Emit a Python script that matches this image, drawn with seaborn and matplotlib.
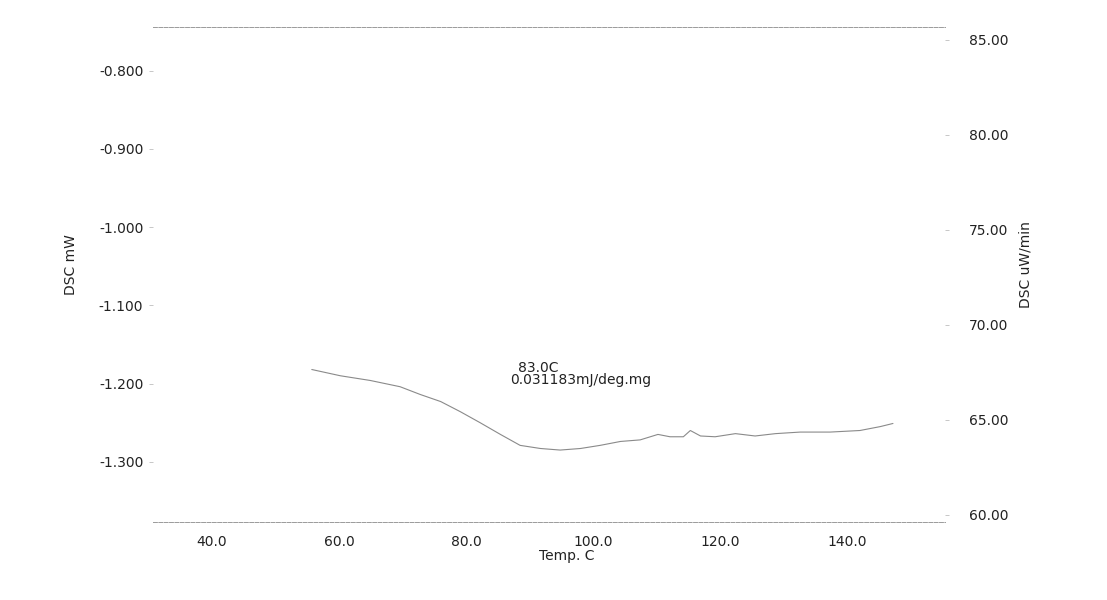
"""
plot.py - DSC scan redraw (heat flow vs temperature)
"""
import numpy as np
import pandas as pd
import matplotlib
matplotlib.use("Agg")
import matplotlib.pyplot as plt
import seaborn as sns

# values
temp_c = [55.7, 60.2, 64.9, 69.6, 72.8, 76.0, 79.1, 82.2, 85.4, 88.5,
          91.7, 94.8, 98.0, 101.1, 104.3, 107.4, 110.2, 112.1, 114.2, 115.3,
          116.9, 119.2, 122.4, 125.5, 128.7, 132.6, 137.3, 142.0, 145.2, 147.2]
dsc_mw = [-1.182, -1.190, -1.196, -1.204, -1.214, -1.223, -1.236, -1.250, -1.265, -1.279,
          -1.283, -1.285, -1.283, -1.279, -1.274, -1.272, -1.265, -1.268, -1.268, -1.260,
          -1.267, -1.268, -1.264, -1.267, -1.264, -1.262, -1.262, -1.260, -1.255, -1.251]

x_ticks = [40.0, 60.0, 80.0, 100.0, 120.0, 140.0]
left_ticks = [-0.8, -0.9, -1.0, -1.1, -1.2, -1.3]
right_ticks = [85.0, 80.0, 75.0, 70.0, 65.0, 60.0]

peak_label = "83.0C"
enthalpy_label = "0.031183mJ/deg.mg"

df = pd.DataFrame({"Temp": temp_c, "DSC": dsc_mw})

sns.set_style("white")
plt.rcParams["font.family"] = ["DejaVu Sans"]
FS = 10

fig = plt.figure(figsize=(11.07, 6), dpi=100)
ax = fig.add_axes([0.1382, 0.13, 0.7155, 0.825])

sns.lineplot(data=df, x="Temp", y="DSC", ax=ax, color="#8a8a8a", linewidth=0.8)

ax.set_xlim(30.7, 155.4)
ax.set_ylim(-1.377, -0.744)
ax.set_xticks(x_ticks)
ax.set_xticklabels([f"{v:.1f}" for v in x_ticks])
ax.set_yticks(left_ticks)
ax.set_yticklabels([f"{v:.3f}" for v in left_ticks])
ax.tick_params(axis="both", labelsize=FS, colors="#b0b0b0", labelcolor="#222222",
               length=3, width=0.5)
ax.tick_params(axis="y", pad=4)
ax.tick_params(axis="x", pad=6)
ax.set_xlabel("Temp. C", fontsize=FS, color="#222222")
ax.xaxis.set_label_coords(0.522, -0.055)
ax.set_ylabel("DSC mW", fontsize=FS, color="#222222")
ax.yaxis.set_label_coords(-0.095, 0.52)

for side in ["left", "right"]:
    ax.spines[side].set_visible(False)
for side in ["top", "bottom"]:
    ax.spines[side].set_linestyle((0, (4, 1.5)))
    ax.spines[side].set_color("#9a9a9a")
    ax.spines[side].set_linewidth(0.7)

ax2 = ax.twinx()
ax2.set_ylim(59.63, 85.68)
ax2.set_yticks(right_ticks)
ax2.set_yticklabels([f"{v:.2f}" for v in right_ticks])
ax2.tick_params(axis="y", labelsize=FS, colors="#b0b0b0", labelcolor="#222222",
                length=3, width=0.5, pad=14)
ax2.set_ylabel("DSC uW/min", fontsize=FS, color="#222222", rotation=90)
ax2.yaxis.set_label_coords(1.093, 0.52)
for side in ax2.spines:
    ax2.spines[side].set_visible(False)

# peak annotation, first line sits a bit left of the second in the scan
ax.text(91.3, -1.1795, peak_label, fontsize=FS, color="#222222", ha="center", va="center")
ax.text(98.1, -1.1949, enthalpy_label, fontsize=FS, color="#222222", ha="center", va="center")

fig.savefig("out.png", dpi=100)
